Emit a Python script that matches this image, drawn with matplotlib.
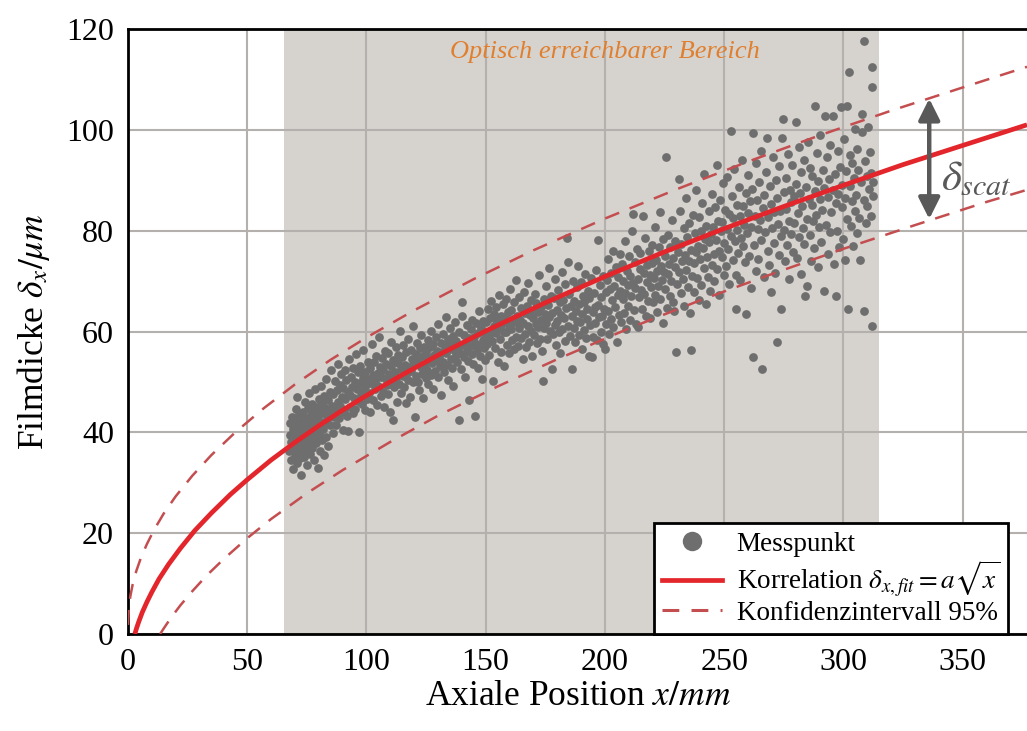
import numpy as np
import matplotlib
matplotlib.use("Agg")
import matplotlib.pyplot as plt
from matplotlib.lines import Line2D

plt.rcParams['font.family'] = ['Liberation Serif', 'DejaVu Serif']
plt.rcParams['mathtext.fontset'] = 'stix'

# Messpunkte (x in mm, delta in um)
messpunkte = [
    (67.5,36.2),(67.8,39.5),(68.0,41.8),(68.3,34.5),(68.5,38.0),(68.7,43.1),(69.0,36.9),(69.2,40.6),(69.4,32.8),(69.6,38.8),
    (69.8,42.5),(70.0,35.3),(70.1,37.6),(70.3,40.0),(70.5,44.6),(70.7,33.9),(70.9,39.1),(71.0,47.0),(71.2,36.4),(71.4,41.5),
    (71.6,38.2),(71.8,43.7),(72.0,34.9),(72.1,40.8),(72.3,37.1),(72.5,42.2),(72.7,31.6),(72.9,39.6),(73.1,36.0),(73.3,44.0),
    (73.5,38.7),(73.7,41.2),(73.9,35.2),(74.1,46.1),(74.3,39.9),(74.5,37.4),(74.7,42.9),(74.9,33.5),(75.1,40.4),(75.3,44.8),
    (75.5,36.7),(75.7,38.9),(75.9,42.0),(76.1,47.8),(76.3,35.8),(76.5,40.9),(76.7,43.5),(76.9,38.1),(77.1,45.6),(77.3,36.9),
    (77.5,41.7),(77.7,39.3),(77.9,44.2),(78.1,34.6),(78.3,42.6),(78.5,48.5),(78.7,37.8),(78.9,40.2),(79.1,45.0),(79.3,38.6),
    (79.5,43.3),(79.7,33.0),(79.9,41.1),(80.1,46.7),(80.3,39.7),(80.5,36.3),(80.7,44.4),(80.9,42.1),(81.1,49.2),(81.3,38.4),
    (81.5,45.9),(81.7,40.6),(81.9,43.8),(82.1,35.5),(82.3,47.3),(82.5,41.9),(82.8,44.9),(83.0,39.0),(83.2,50.6),(83.5,42.7),
    (83.8,46.4),(84.0,37.2),(84.3,44.1),(84.6,48.0),(84.9,41.4),(85.2,52.3),(85.5,45.3),(85.8,39.8),(86.1,47.6),(86.4,43.0),
    (86.7,50.1),(87.0,44.6),(87.3,41.5),(87.6,48.3),(87.9,53.5),(88.2,46.0),(88.5,42.8),(88.8,49.4),(89.1,45.2),(89.4,51.6),
    (89.7,47.1),(90.0,40.5),(90.3,48.8),(90.6,44.0),(90.9,52.4),(91.2,46.6),(91.5,50.3),(91.8,43.3),(92.1,48.0),(92.4,40.2),
    (92.7,54.6),(93.0,47.5),(93.3,45.1),(93.6,51.0),(93.9,49.0),(94.2,43.9),(94.5,52.8),(94.8,46.9),(95.1,50.0),(95.4,44.7),
    (95.7,55.5),(96.0,48.6),(96.3,46.2),(96.6,51.9),(96.9,40.0),(97.2,49.7),(97.5,53.2),(97.8,47.4),(98.1,45.6),(98.4,50.8),
    (98.7,56.3),(99.0,48.3),(99.3,44.4),(99.6,52.0),(99.9,49.4),(100.2,46.7),(100.5,54.0),(100.8,50.5),
    (101.1,47.9),(101.4,52.7),(101.7,44.1),(102.0,49.8),(102.3,57.6),(102.6,51.3),(102.9,46.4),(103.2,53.9),(103.5,50.2),(103.8,48.6),
    (104.1,55.2),(104.4,45.5),(104.7,51.8),(105.0,49.1),(105.3,58.9),(105.6,53.0),(105.9,47.2),(106.2,50.9),(106.5,54.7),(106.8,48.0),
    (107.1,52.3),(107.4,45.0),(107.7,56.1),(108.0,50.6),(108.3,53.6),(108.6,49.3),(108.9,47.6),(109.2,55.8),(109.5,51.5),(109.8,44.0),
    (110.1,53.1),(110.4,58.0),(110.7,50.1),(111.0,42.5),(111.3,54.4),(111.6,48.9),(111.9,52.0),(112.2,56.9),(112.5,50.8),(112.8,46.1),
    (113.1,53.8),(113.4,55.4),(113.7,49.6),(114.0,60.1),(114.3,52.6),(114.6,47.8),(114.9,54.9),(115.2,51.2),(115.5,57.3),(115.8,49.0),
    (116.1,53.4),(116.4,45.8),(116.7,55.9),(117.0,51.7),(117.3,58.6),(117.6,50.4),(117.9,53.0),(118.2,47.0),(118.5,56.4),(118.8,52.2),
    (119.1,54.6),(119.4,49.9),(119.7,61.0),(120.0,53.7),(120.3,43.0),(120.6,55.6),(120.9,51.1),(121.2,57.8),(121.5,50.0),(121.8,54.2),
    (122.1,48.4),(122.4,56.7),(122.7,52.9),(123.0,59.4),(123.3,51.6),(123.6,55.1),(123.9,46.9),(124.2,57.0),(124.5,53.5),(124.8,50.7),
    (125.1,55.9),(125.4,52.4),(125.7,58.3),(126.0,49.6),(126.3,54.8),(126.6,56.9),(126.9,51.3),(127.2,60.2),(127.5,53.7),(127.8,57.5),
    (128.1,48.5),(128.4,55.3),(128.7,52.1),(129.0,58.9),(129.3,54.3),(129.6,56.2),(129.9,50.9),(130.2,61.5),(130.5,55.0),(130.8,53.1),
    (131.1,57.7),(131.4,47.4),(131.7,56.0),(132.0,59.6),(132.3,54.0),(132.6,51.9),(132.9,57.2),(133.2,62.8),(133.5,55.7),(133.8,53.3),
    (134.1,58.5),(134.4,50.3),(134.7,56.6),(135.0,60.6),(135.3,54.6),(135.6,57.9),(135.9,52.7),(136.2,59.1),(136.5,49.1),(136.8,56.3),
    (137.1,61.8),(137.4,55.4),(137.7,58.2),(138.0,53.9),(138.3,57.0),(138.7,42.5),(139.0,60.0),(139.3,55.8),(139.6,52.5),(139.9,63.0),
    (140.2,65.8),(140.5,57.4),(140.8,54.9),(141.1,59.3),(141.4,51.0),(141.7,58.0),(142.0,56.1),(142.3,61.2),(142.6,54.2),(142.9,58.7),
    (143.2,46.5),(143.5,57.1),(143.8,60.4),(144.1,55.6),(144.4,62.3),(144.7,53.6),(145.0,59.0),(145.4,43.3),(145.7,57.8),(146.0,61.6),
    (146.3,56.4),(146.6,52.8),(146.9,59.8),(147.2,64.0),(147.5,57.3),(147.8,55.1),(148.1,60.7),(148.4,50.5),(148.7,58.4),(149.0,62.1),
    (149.3,56.8),(149.6,59.5),(149.9,54.4),
    (150.3,61.9),(150.6,57.6),(150.9,64.5),(151.2,59.2),(151.5,55.3),(151.8,62.6),(152.1,60.3),(152.4,66.0),(152.7,58.1),(153.0,50.1),
    (153.3,63.4),(153.6,61.1),(153.9,56.7),(154.2,64.9),(154.5,59.7),(154.8,62.0),(155.1,54.0),(155.4,60.8),(155.7,67.3),(156.0,58.6),
    (156.3,63.0),(156.6,56.0),(156.9,61.5),(157.2,65.4),(157.5,59.9),(157.8,53.1),(158.1,62.8),(158.4,60.0),(158.7,66.5),(159.0,57.4),
    (159.3,63.9),(159.6,61.3),(159.9,55.8),(160.2,68.4),(160.5,60.5),(160.8,64.2),(161.1,58.3),(161.4,62.4),(161.7,56.5),(162.0,65.8),
    (162.3,61.8),(162.6,59.0),(162.9,70.2),(163.2,63.1),(163.5,57.1),(163.8,60.7),(164.1,66.9),(164.4,62.2),(164.7,58.8),(165.0,64.6),
    (165.5,54.5),(165.8,61.6),(166.1,67.8),(166.4,59.5),(166.7,63.6),(167.0,56.9),(167.3,65.1),(167.6,61.0),(167.9,69.6),(168.2,58.0),
    (168.5,63.3),(168.8,66.2),(169.1,60.2),(169.4,55.2),(169.7,64.0),(170.0,62.7),(170.3,59.3),(170.6,67.5),(170.9,61.4),(171.2,65.6),
    (171.5,57.8),(171.8,63.8),(172.1,60.9),(172.4,71.3),(172.7,58.6),(173.0,64.8),(173.3,62.3),(173.6,56.2),(174.0,50.1),(174.3,66.4),
    (174.6,60.6),(174.9,63.5),
    (175.2,69.0),(175.5,61.7),(175.8,58.5),(176.1,65.2),(176.4,62.9),(176.7,72.5),(177.0,60.1),(177.3,67.1),(177.7,52.5),(178.0,63.7),
    (178.3,59.6),(178.6,66.7),(178.9,61.2),(179.2,70.4),(179.5,57.3),(179.8,64.3),(180.1,62.0),(180.4,68.3),(180.7,59.9),(181.0,65.9),
    (181.3,55.7),(181.6,63.2),(181.9,71.9),(182.2,60.4),(182.5,66.3),(182.8,62.6),(183.1,58.2),(183.4,69.4),(183.7,64.7),(184.0,78.5),
    (184.4,73.8),(184.7,61.0),(185.0,67.4),(185.3,59.1),(185.6,65.0),(186.0,52.5),(186.3,63.0),(186.6,70.0),(186.9,60.7),(187.2,66.0),
    (187.5,57.9),(187.8,64.1),(188.1,68.8),(188.4,62.1),(188.7,73.0),(189.0,59.4),(189.3,65.5),(189.6,61.9),(189.9,69.9),(190.2,56.6),
    (190.5,63.4),(190.8,67.0),(191.1,60.3),(191.4,65.8),(191.7,71.4),(192.0,58.7),(192.3,64.4),(192.6,62.4),(192.9,68.1),(193.2,55.2),
    (193.5,66.6),(193.8,61.3),(194.1,70.7),(194.5,55.0),(194.8,63.9),(195.1,59.0),(195.4,67.7),(195.7,64.9),(196.0,61.6),(196.3,72.2),
    (196.6,58.4),(197.0,78.1),(197.3,65.3),(197.6,62.8),(197.9,69.2),(198.2,60.0),(198.5,66.8),(198.8,63.1),(199.1,57.5),(199.4,71.0),
    (199.7,64.5),(200.0,56.5),(200.3,67.9),(200.6,61.4),
    (200.9,70.3),(201.2,64.0),(201.5,74.4),(201.8,59.5),(202.1,68.5),(202.4,62.5),(202.7,71.6),(203.0,66.2),(203.3,76.0),(203.6,60.8),
    (203.9,69.1),(204.2,64.8),(204.5,72.7),(205.0,58.0),(205.3,67.2),(205.6,70.8),(205.9,63.3),(206.2,75.3),(206.5,68.0),(206.8,61.9),
    (207.1,73.4),(207.4,66.5),(207.7,70.1),(208.0,63.7),(208.3,77.9),(208.6,67.6),(208.9,60.4),(209.2,72.0),(209.5,69.3),(209.8,65.1),
    (210.1,74.9),(210.4,62.2),(210.7,71.1),(211.0,67.0),(211.3,80.0),(211.6,83.3),(211.9,69.7),(212.2,64.3),(212.5,73.8),(212.8,68.7),
    (213.1,61.5),(213.4,76.4),(213.7,70.5),(214.0,60.8),(214.3,66.8),(214.6,72.4),(214.9,75.6),(215.2,68.2),(215.5,64.5),(216.0,83.0),
    (216.3,71.7),(216.6,67.4),(216.9,78.6),(217.2,63.0),(217.5,73.1),(217.8,69.9),(218.1,66.1),(218.4,75.9),(218.7,71.3),(219.0,62.7),
    (219.3,68.9),(219.6,77.2),(219.9,73.6),(220.2,65.8),(220.5,70.6),(220.8,80.7),(221.1,67.3),(221.4,74.2),(221.7,63.9),(222.0,72.0),
    (222.3,69.0),(222.6,76.8),(223.0,83.7),(223.3,66.4),(223.6,73.0),(223.9,70.2),(224.2,61.7),(224.5,78.3),(224.8,71.8),
    (225.1,75.0),(225.4,68.4),(225.7,94.6),(226.0,64.6),(226.3,71.5),(226.6,79.1),(226.9,73.3),(227.2,67.0),(227.5,76.7),(227.8,70.0),
    (228.1,82.2),(228.4,74.6),(228.7,65.9),(229.0,64.0),(229.3,72.8),(229.6,78.0),(230.0,56.0),(230.3,69.5),(230.6,75.8),(230.9,90.3),
    (231.2,71.9),(231.5,84.0),(231.8,67.7),(232.1,77.4),(232.4,73.9),(232.7,70.4),(233.0,80.6),(233.3,65.0),(233.6,75.2),(233.9,86.4),
    (234.2,72.2),(234.5,78.8),(234.8,68.8),(235.1,74.0),(235.4,81.5),(235.7,63.6),(236.0,56.3),(236.3,76.2),(236.6,71.0),(236.9,83.1),
    (237.2,73.6),(237.5,67.9),(237.8,79.6),(238.1,75.7),(238.4,88.0),(238.7,70.7),(239.0,77.0),(239.3,66.2),(239.6,82.8),(239.9,74.3),
    (240.2,80.0),(240.5,69.2),(240.8,85.4),(241.1,76.5),(241.4,72.6),(241.7,91.2),(242.0,78.4),(242.3,65.5),(242.6,81.0),(242.9,74.8),
    (243.2,70.9),(243.5,83.9),(243.8,77.7),(244.1,68.0),(244.4,79.3),(244.7,87.2),(245.0,73.2),(245.3,80.8),(245.6,75.4),(245.9,70.1),
    (246.2,84.6),(246.5,78.1),(246.8,93.0),(247.1,72.4),(247.4,82.0),(247.7,76.0),(248.0,67.3),(248.3,86.0),(248.6,79.9),(248.9,74.7),
    (249.2,81.7),(249.5,89.5),(249.8,71.3),
    (250.1,77.6),(250.4,84.2),(250.7,73.0),(251.0,80.4),(251.3,90.6),(251.6,76.3),(251.9,83.3),(252.2,69.5),(252.7,99.8),(253.0,79.0),
    (253.3,86.8),(253.6,74.1),(253.9,82.5),(254.2,92.2),(254.5,77.9),(254.8,71.2),(255.0,64.4),(255.3,85.1),(255.6,80.1),(255.9,75.5),
    (256.2,88.7),(256.5,82.9),(256.8,70.3),(257.1,78.6),(257.4,94.1),(257.7,84.8),(258.0,76.9),(258.3,81.2),(258.6,73.7),(259.0,63.4),
    (259.3,87.5),(259.6,79.5),(259.9,83.6),(260.2,91.0),(260.5,75.0),(260.8,85.9),(261.1,80.8),(261.4,68.6),(261.7,88.2),(262.0,99.4),
    (262.3,55.0),(262.6,77.2),(262.9,83.0),(263.2,93.5),(263.5,72.1),(263.8,86.1),(264.1,80.3),(264.4,74.4),(264.7,89.6),(265.0,82.1),
    (265.3,78.2),(265.6,95.8),(266.0,52.5),(266.3,84.5),(266.6,70.8),(266.9,87.0),(267.2,79.7),(267.5,91.7),(268.0,98.4),(268.3,76.0),
    (268.6,82.7),(268.9,73.1),(269.2,88.9),(269.5,85.2),(269.8,67.8),(270.1,80.6),(270.4,94.6),(270.7,77.5),(271.0,83.8),(271.3,71.7),
    (271.6,90.0),(272.0,58.0),(272.3,86.5),(272.6,81.3),(272.9,75.2),(273.2,92.8),(273.5,84.0),(273.8,78.9),(274.0,64.4),(274.3,98.4),
    (274.6,102.2),(274.9,87.7),
    (275.2,80.2),(275.5,73.9),(275.8,90.4),(276.1,84.3),(276.4,77.1),(276.7,95.2),(277.0,82.0),(277.3,70.5),(277.6,88.1),(277.9,85.7),
    (278.2,79.3),(278.5,93.1),(278.8,75.8),(279.1,86.9),(279.4,81.6),(280.0,101.6),(280.3,89.3),(280.6,74.6),(280.9,83.5),(281.2,96.6),
    (281.5,78.7),(281.8,87.4),(282.1,71.4),(282.4,91.6),(282.7,84.9),(283.0,80.5),(283.3,94.0),(283.6,77.3),(284.0,67.0),(284.3,88.6),
    (284.6,69.0),(284.9,82.4),(285.2,97.5),(285.5,86.3),(285.8,79.1),(286.1,92.4),(286.4,74.0),(286.7,85.0),(287.0,90.8),(287.3,81.9),
    (287.6,76.6),(288.0,104.8),(288.3,87.9),(288.6,83.2),(288.9,95.4),(289.2,72.7),(289.5,89.9),(289.8,80.7),(290.1,86.2),(290.4,99.0),
    (290.7,77.8),(291.0,84.1),(291.3,92.0),(291.7,68.0),(292.0,88.4),(292.5,102.8),(292.8,81.1),(293.1,94.7),(293.4,75.4),(293.7,86.6),
    (294.0,90.2),(294.3,79.8),(294.6,97.0),(294.9,83.7),(295.5,102.8),(295.8,88.0),(296.1,73.4),(296.4,91.3),(296.7,67.0),(297.0,85.5),
    (297.3,80.0),(297.6,95.9),(297.9,87.2),(298.2,76.8),(298.5,92.7),(299.0,104.6),(299.3,84.6),(299.6,89.1),(299.9,78.4),(300.2,98.1),
    (300.5,74.2),(300.8,86.4),(301.1,91.9),(301.4,82.3),(301.7,104.8),(302.0,64.4),(302.3,111.5),(302.6,88.8),(302.9,95.0),(303.2,80.9),
    (303.5,85.8),(303.8,93.4),(304.1,77.0),(304.4,90.5),(304.7,100.2),(305.0,84.0),(305.3,87.0),(305.6,96.3),(305.9,79.6),(306.2,92.1),
    (306.5,82.6),(307.0,74.2),(307.3,89.7),(307.6,99.5),(308.0,103.2),(308.5,117.7),(308.5,64.0),(308.8,86.0),(309.1,93.8),(309.4,81.5),
    (309.7,90.9),(310.0,84.9),(310.5,100.6),(310.8,88.3),(311.1,95.7),(311.4,83.0),(311.7,91.4),(312.0,61.0),(312.0,108.5),(312.0,112.5),
    (312.3,86.9),(312.6,89.6),
]

# Korrelation
fit_x = [2.9, 3.5, 4.5, 6, 8, 10, 13, 17, 22, 28, 35, 43, 50, 60, 70, 80, 90, 100, 115, 130,
         150, 175, 200, 225, 250, 275, 300, 325, 350, 377]
fit_y = [0.0, 1.0, 2.4, 4.3, 6.4, 8.3, 10.9, 13.8, 17.0, 20.5, 24.0, 27.7, 30.6, 34.5, 38.0, 41.3, 44.4, 47.3, 51.4, 55.3,
         60.1, 65.7, 70.9, 75.8, 80.4, 84.8, 89.0, 93.1, 96.9, 101.0]

# Konfidenzintervall 95 %
ko_x = [0, 0.3, 1, 2, 3.5, 5.5, 8, 11, 15, 20, 27, 35, 45, 57, 70, 85, 100, 120, 145, 170,
        200, 230, 260, 290, 320, 350, 377]
ko_y = [1.8, 4.9, 7.5, 9.9, 12.5, 15.2, 17.9, 20.7, 23.9, 27.3, 31.4, 35.5, 40.0, 44.8, 49.5, 54.4, 58.8, 64.2, 70.4, 76.1,
        82.4, 88.2, 93.7, 98.9, 103.8, 108.4, 112.5]
ku_x = [13.5, 15, 18, 22, 27, 33, 40, 50, 60, 75, 90, 110, 130, 155, 180, 210, 240, 270, 300, 330, 360, 377]
ku_y = [0.0, 1.1, 3.2, 5.7, 8.5, 11.6, 14.8, 19.0, 22.8, 27.9, 32.5, 38.1, 43.3, 49.1, 54.5, 60.6, 66.2, 71.4, 76.4, 81.1,
        85.7, 88.1]

bereich = (65.4, 315.0)
scat_pfeil = (336, 106.2, 82.3)

mx = [p[0] for p in messpunkte]
my = [p[1] for p in messpunkte]

fig = plt.figure(figsize=(10.27, 7.31), dpi=100)
ax = fig.add_axes([0.1246, 0.1327, 0.8754, 0.8276])

ax.axvspan(bereich[0], bereich[1], color='#d6d2ce', lw=0, zorder=0)
ax.set_axisbelow(True)
ax.grid(True, color='#b3b0ad', lw=1.5)

gray = '#6e6e6e'
rot = '#e3262b'
rot_d = '#c44d4f'
ax.plot(mx, my, 'o', color=gray, ms=6.3, mec='none', zorder=3)
ax.plot(fit_x, fit_y, color=rot, lw=3.4, zorder=4, solid_capstyle='butt')
ax.plot(ko_x, ko_y, color=rot_d, lw=1.8, ls=(0, (6, 4.5)), zorder=4)
ax.plot(ku_x, ku_y, color=rot_d, lw=1.8, ls=(0, (6, 4.5)), zorder=4)

ax.annotate('', xy=(scat_pfeil[0], scat_pfeil[1]), xytext=(scat_pfeil[0], scat_pfeil[2]),
            arrowprops=dict(arrowstyle='<|-|>', color='#595959', lw=3.2, mutation_scale=32,
                            shrinkA=0, shrinkB=0), zorder=5)
ax.text(341, 90, r'$\delta_{scat}$', fontsize=31, color='#595959', va='center', ha='left')

ax.text(200, 115.5, 'Optisch erreichbarer Bereich', color='#e07f2e', fontsize=19,
        style='italic', ha='center', va='center')

ax.set_xlim(0, 377)
ax.set_ylim(0, 120)
ax.set_xticks([0, 50, 100, 150, 200, 250, 300, 350])
ax.set_yticks([0, 20, 40, 60, 80, 100, 120])
ax.tick_params(length=0, labelsize=23, pad=10)
for s in ['top', 'left', 'bottom']:
    ax.spines[s].set_linewidth(2)
    ax.spines[s].set_color('black')
ax.spines['right'].set_visible(False)

ax.set_xlabel(r'Axiale Position $x/mm$', fontsize=25.5, labelpad=2)
ax.set_ylabel(r'Filmdicke $\delta_x/\mu m$', fontsize=25.5, labelpad=10)

handles = [
    Line2D([], [], marker='o', ls='none', color=gray, ms=14, mec='none'),
    Line2D([], [], color=rot, lw=3.4),
    Line2D([], [], color=rot_d, lw=2.2, ls=(0, (5.5, 4))),
]
labels = ['Messpunkt', r'Korrelation $\delta_{x,fit} = a\sqrt{x}$', 'Konfidenzintervall 95%']
leg = ax.legend(handles, labels, loc='lower left', bbox_to_anchor=(0.585, 0.0), fontsize=19.5,
                frameon=True, fancybox=False, framealpha=1, edgecolor='black',
                borderaxespad=0, handlelength=2.2, handletextpad=0.55, labelspacing=0.08,
                borderpad=0.3)
leg.get_frame().set_linewidth(2)
leg.set_zorder(10)

fig.savefig('out.png', dpi=100)
